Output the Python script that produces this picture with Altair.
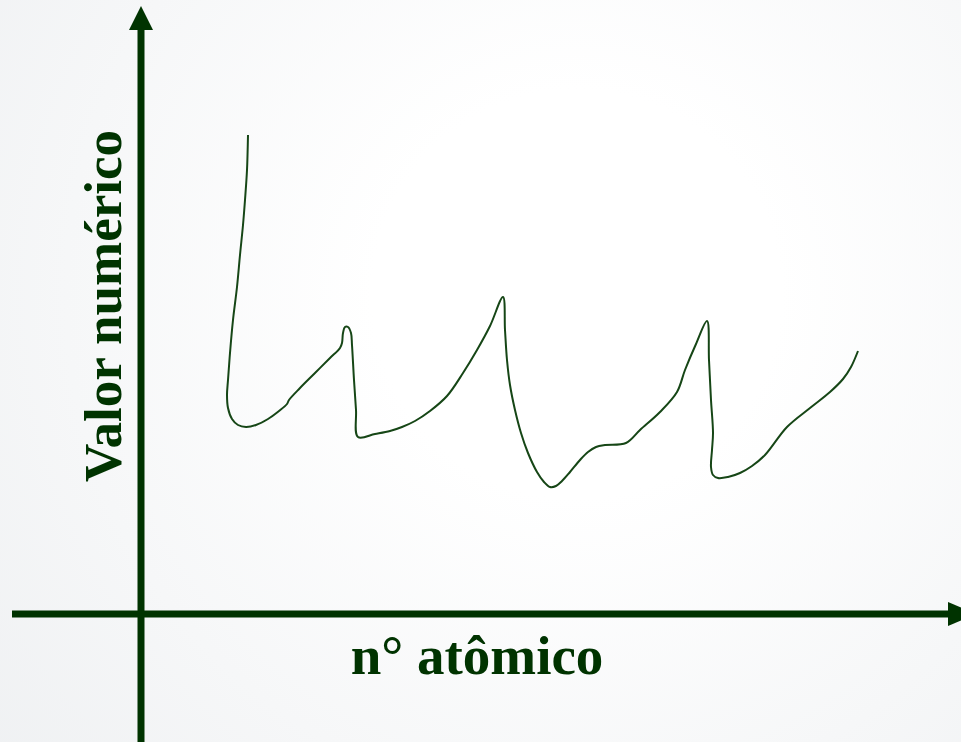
import altair as alt
import pandas as pd

# Curve traced in the axis frame: origin where the two axes cross
curve_x = [107, 106, 104, 102, 99, 96, 92, 89, 87, 86, 87, 91, 97, 105, 115, 127,
           138, 146, 148, 159, 174, 189, 199, 201, 202, 204, 207, 210, 211, 213,
           215, 217, 234, 249, 261, 274, 289, 306, 322, 336, 349, 362, 364, 366,
           369, 374, 380, 387, 396, 403, 409, 415, 421, 429, 439, 447, 455, 464,
           485, 499, 519, 536, 544, 555, 566, 568, 570, 572, 571, 570, 572, 577,
           587, 599, 611, 624, 646, 669, 689, 702, 710, 717]
curve_y = [479, 444, 414, 389, 359, 327, 294, 261, 234, 219, 206, 195, 189, 187,
           189, 195, 203, 210, 214, 226, 241, 256, 266, 271, 281, 287, 287, 281,
           269, 234, 204, 177, 180, 183, 187, 193, 203, 218, 241, 264, 288, 317,
           284, 254, 229, 204, 181, 161, 142, 132, 127, 128, 133, 142, 154, 162,
           167, 169, 171, 184, 202, 222, 244, 270, 293, 254, 214, 181, 164, 147,
           139, 136, 137, 141, 148, 159, 187, 206, 222, 235, 247, 263]

x_label = "n° atômico"
y_label = "Valor numérico"

AXIS_GREEN = "#003300"
CURVE_GREEN = "#164616"
W, H = 961, 742

x_scale = alt.Scale(domain=[-141, 820], nice=False, zero=False)
y_scale = alt.Scale(domain=[-128, 614], nice=False, zero=False)

curve = pd.DataFrame({"i": range(len(curve_x)), "x": curve_x, "y": curve_y})

background = alt.Chart(pd.DataFrame({"a": [0]})).mark_rect(
    color=alt.RadialGradient(
        gradient="radial",
        stops=[alt.GradientStop(color="#ffffff", offset=0),
               alt.GradientStop(color="#ffffff", offset=0.25),
               alt.GradientStop(color="#edeff1", offset=1)],
        x1=0.6, y1=0.42, x2=0.6, y2=0.42, r1=0, r2=0.85,
    )
).encode(x=alt.value(0), x2=alt.value(W), y=alt.value(0), y2=alt.value(H))

axes_df = pd.DataFrame({
    "x": [0, -129], "x2": [0, 807],
    "y": [-128, 0], "y2": [588, 0],
})
axis_lines = alt.Chart(axes_df).mark_rule(
    color=AXIS_GREEN, strokeWidth=7, strokeCap="butt"
).encode(
    x=alt.X("x:Q", scale=x_scale, axis=None),
    x2="x2:Q",
    y=alt.Y("y:Q", scale=y_scale, axis=None),
    y2="y2:Q",
)

up_head = alt.Chart(pd.DataFrame({"x": [0], "y": [596]})).mark_point(
    shape="M0,-1L1,1L-1,1Z", size=576, filled=True, opacity=1,
    color=AXIS_GREEN, strokeWidth=0,
).encode(
    x=alt.X("x:Q", scale=x_scale, axis=None),
    y=alt.Y("y:Q", scale=y_scale, axis=None),
)

right_head = alt.Chart(pd.DataFrame({"x": [821], "y": [0]})).mark_point(
    shape="M1,0L-1,0.86L-1,-0.86Z", size=784, filled=True, opacity=1,
    color=AXIS_GREEN, strokeWidth=0,
).encode(
    x=alt.X("x:Q", scale=x_scale, axis=None),
    y=alt.Y("y:Q", scale=y_scale, axis=None),
)

line = alt.Chart(curve).mark_line(
    color=CURVE_GREEN, strokeWidth=2, interpolate="catmull-rom",
    strokeJoin="round"
).encode(
    x=alt.X("x:Q", scale=x_scale, axis=None),
    y=alt.Y("y:Q", scale=y_scale, axis=None),
    order="i:Q",
)

label_style = dict(font="Liberation Serif", fontWeight="bold", color=AXIS_GREEN)

x_title = alt.Chart(pd.DataFrame({"t": [x_label]})).mark_text(
    align="center", baseline="alphabetic", fontSize=55, **label_style
).encode(x=alt.value(477), y=alt.value(674), text="t:N")

y_title = alt.Chart(pd.DataFrame({"t": [y_label]})).mark_text(
    align="center", baseline="alphabetic", angle=270, fontSize=53, **label_style
).encode(x=alt.value(121), y=alt.value(306), text="t:N")

chart = alt.layer(
    background, line, axis_lines, up_head, right_head, x_title, y_title
).properties(
    width=W, height=H, autosize="none", padding=0
).configure_view(stroke=None)

chart.save("out.html", embed_options={"renderer": "svg", "actions": False})
